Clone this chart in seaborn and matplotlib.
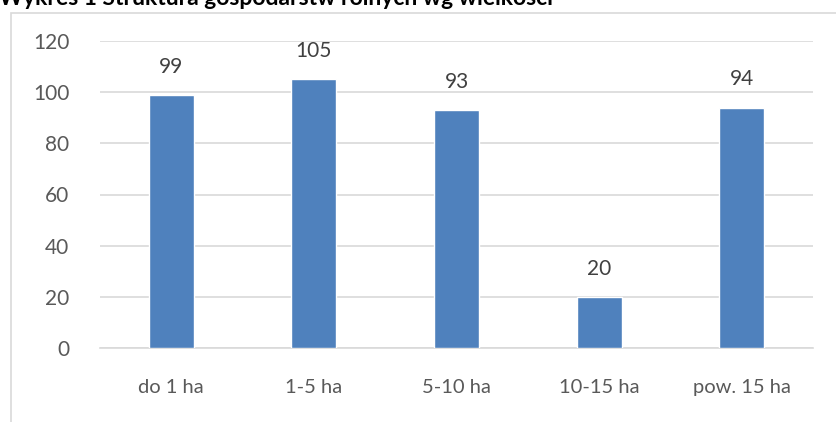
import matplotlib
matplotlib.use("Agg")
import matplotlib.pyplot as plt
import seaborn as sns
import pandas as pd
from matplotlib.patches import Rectangle

categories = ["do 1 ha", "1-5 ha", "5-10 ha", "10-15 ha", "pow. 15 ha"]
values = [99, 105, 93, 20, 94]
yticks = [0, 20, 40, 60, 80, 100, 120]
title = "Wykres 1 Struktura gospodarstw rolnych wg wielkości"

sns.set_theme(style="white")
plt.rcParams['font.family'] = ['Lato', 'DejaVu Sans']

W, H = 836, 422
fig = plt.figure(figsize=(W / 100, H / 100), dpi=100)
ax = fig.add_axes([100 / W, 1 - 348 / H, 713 / W, 307 / H])

df = pd.DataFrame({"cat": categories, "val": values})
sns.barplot(data=df, x="cat", y="val", color="#4F81BD", saturation=1,
            width=0.315, ax=ax, zorder=3)

ax.set_ylim(0, 120)
ax.set_yticks(yticks)
ax.set_xlim(-0.5, len(categories) - 0.5)
ax.grid(axis="y", color="#D9D9D9", linewidth=1.2, zorder=0)
ax.set_axisbelow(True)
for s in ["top", "right", "left"]:
    ax.spines[s].set_visible(False)
ax.spines["bottom"].set_color("#D9D9D9")
ax.spines["bottom"].set_linewidth(1.2)
ax.set_xlabel("")
ax.set_ylabel("")
ax.tick_params(axis="both", length=0, labelcolor="#595959")
ax.tick_params(axis="y", pad=22, labelsize=15)
ax.tick_params(axis="x", pad=22, labelsize=14.5)

for c in ax.containers:
    ax.bar_label(c, labels=[str(v) for v in values], padding=13,
                 fontsize=15, color="#404040")

fig.add_artist(Rectangle((11 / W, -0.1), 1.2, 1 - 13 / H + 0.1,
                         transform=fig.transFigure, fill=False,
                         edgecolor="#D9D9D9", linewidth=1.2))
fig.text(-1 / W, 1 - 5 / H, title, fontsize=16.5, fontweight="bold",
         color="#000000", ha="left", va="baseline")

fig.savefig("out.png", dpi=100)
